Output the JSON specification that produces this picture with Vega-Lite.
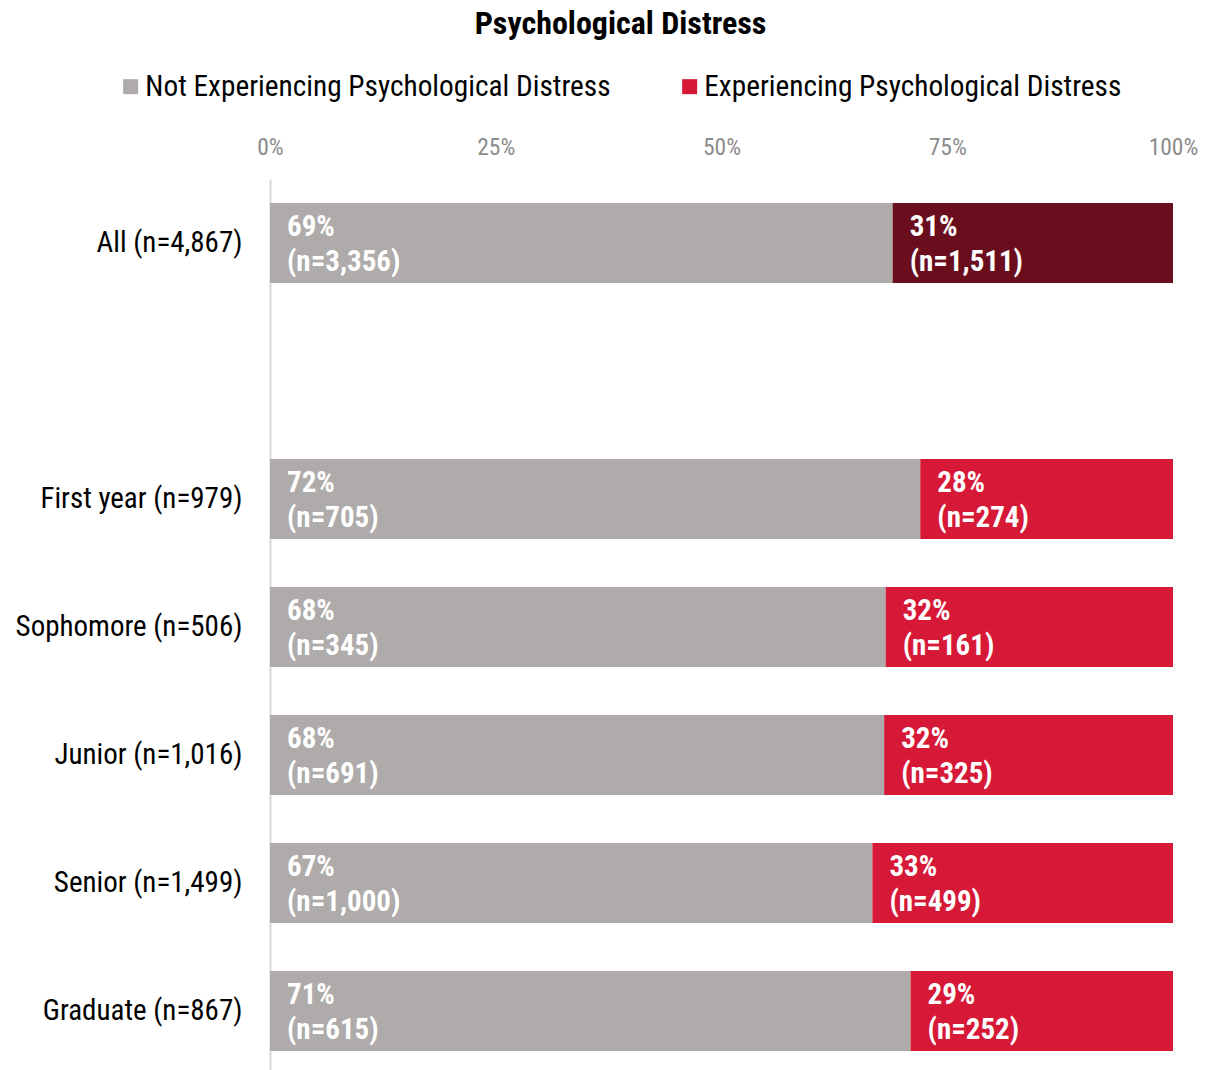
{
  "$schema": "https://vega.github.io/schema/vega-lite/v6.json",
  "width": 903,
  "height": 896,
  "autosize": {"type": "none"},
  "padding": {"left": 270, "top": 179, "right": 33, "bottom": 0},
  "background": "white",
  "config": {
    "font": "Roboto Condensed, Roboto",
    "view": {"stroke": null}
  },
  "title": {
    "text": "Psychological Distress",
    "fontSize": 32,
    "fontWeight": "bold",
    "color": "#000000",
    "anchor": "middle",
    "dx": -101,
    "offset": 31
  },
  "data": {
    "values": [
      {"group": "All (n=4,867)", "status": "Not Experiencing Psychological Distress", "n": 3356},
      {"group": "All (n=4,867)", "status": "Experiencing Psychological Distress", "n": 1511},
      {"group": "First year (n=979)", "status": "Not Experiencing Psychological Distress", "n": 705},
      {"group": "First year (n=979)", "status": "Experiencing Psychological Distress", "n": 274},
      {"group": "Sophomore (n=506)", "status": "Not Experiencing Psychological Distress", "n": 345},
      {"group": "Sophomore (n=506)", "status": "Experiencing Psychological Distress", "n": 161},
      {"group": "Junior (n=1,016)", "status": "Not Experiencing Psychological Distress", "n": 691},
      {"group": "Junior (n=1,016)", "status": "Experiencing Psychological Distress", "n": 325},
      {"group": "Senior (n=1,499)", "status": "Not Experiencing Psychological Distress", "n": 1000},
      {"group": "Senior (n=1,499)", "status": "Experiencing Psychological Distress", "n": 499},
      {"group": "Graduate (n=867)", "status": "Not Experiencing Psychological Distress", "n": 615},
      {"group": "Graduate (n=867)", "status": "Experiencing Psychological Distress", "n": 252}
    ]
  },
  "transform": [
    {"stack": "n", "groupby": ["group"], "as": ["x0", "x1"], "offset": "normalize", "sort": [{"field": "status", "order": "descending"}]},
    {"calculate": "datum.x1 - datum.x0", "as": "pct"},
    {"calculate": "'(n=' + format(datum.n, ',') + ')'", "as": "nLabel"}
  ],
  "encoding": {
    "y": {
      "field": "group",
      "type": "nominal",
      "scale": {
        "domain": ["All (n=4,867)", " ", "First year (n=979)", "Sophomore (n=506)", "Junior (n=1,016)", "Senior (n=1,499)", "Graduate (n=867)"],
        "paddingInner": 0.375,
        "paddingOuter": 0.1875
      },
      "axis": {
        "title": null,
        "ticks": false,
        "domainColor": "#D9D9D9",
        "domainWidth": 2,
        "labelFontSize": 29,
        "labelColor": "#000000",
        "labelPadding": 28,
        "labelLimit": 1000
      }
    }
  },
  "layer": [
    {
      "mark": {"type": "bar"},
      "encoding": {
        "x": {
          "field": "x0",
          "type": "quantitative",
          "scale": {"domain": [0, 1], "nice": false},
          "axis": {
            "orient": "top",
            "title": null,
            "format": ".0%",
            "values": [0, 0.25, 0.5, 0.75, 1],
            "ticks": false,
            "domain": false,
            "grid": false,
            "labelFlush": false,
            "labelColor": "#8C8C8C",
            "labelFontSize": 23.5,
            "labelPadding": 20
          }
        },
        "x2": {"field": "x1"},
        "color": {
          "condition": {"test": "datum.group === 'All (n=4,867)' && datum.status === 'Experiencing Psychological Distress'", "value": "#6A0D1D"},
          "field": "status",
          "type": "nominal",
          "scale": {
            "domain": ["Not Experiencing Psychological Distress", "Experiencing Psychological Distress"],
            "range": ["#AEABAA", "#D51937"]
          },
          "legend": {
            "title": null,
            "orient": "none",
            "legendX": -154,
            "legendY": -107,
            "direction": "horizontal",
            "symbolType": "square",
            "symbolSize": 225,
            "symbolStrokeWidth": 0,
            "labelFontSize": 29.3,
            "labelColor": "#000000",
            "labelOffset": 0,
            "columnPadding": 64,
            "labelLimit": 1000
          }
        }
      }
    },
    {
      "mark": {"type": "text", "align": "left", "baseline": "middle", "dx": 17, "dy": -16, "fontSize": 29, "fontWeight": "bold", "color": "#FFFFFF"},
      "encoding": {
        "x": {"field": "x0", "type": "quantitative"},
        "text": {"field": "pct", "type": "quantitative", "format": ".0%"}
      }
    },
    {
      "mark": {"type": "text", "align": "left", "baseline": "middle", "dx": 17, "dy": 19, "fontSize": 29, "fontWeight": "bold", "color": "#FFFFFF"},
      "encoding": {
        "x": {"field": "x0", "type": "quantitative"},
        "text": {"field": "nLabel", "type": "nominal"}
      }
    }
  ]
}
